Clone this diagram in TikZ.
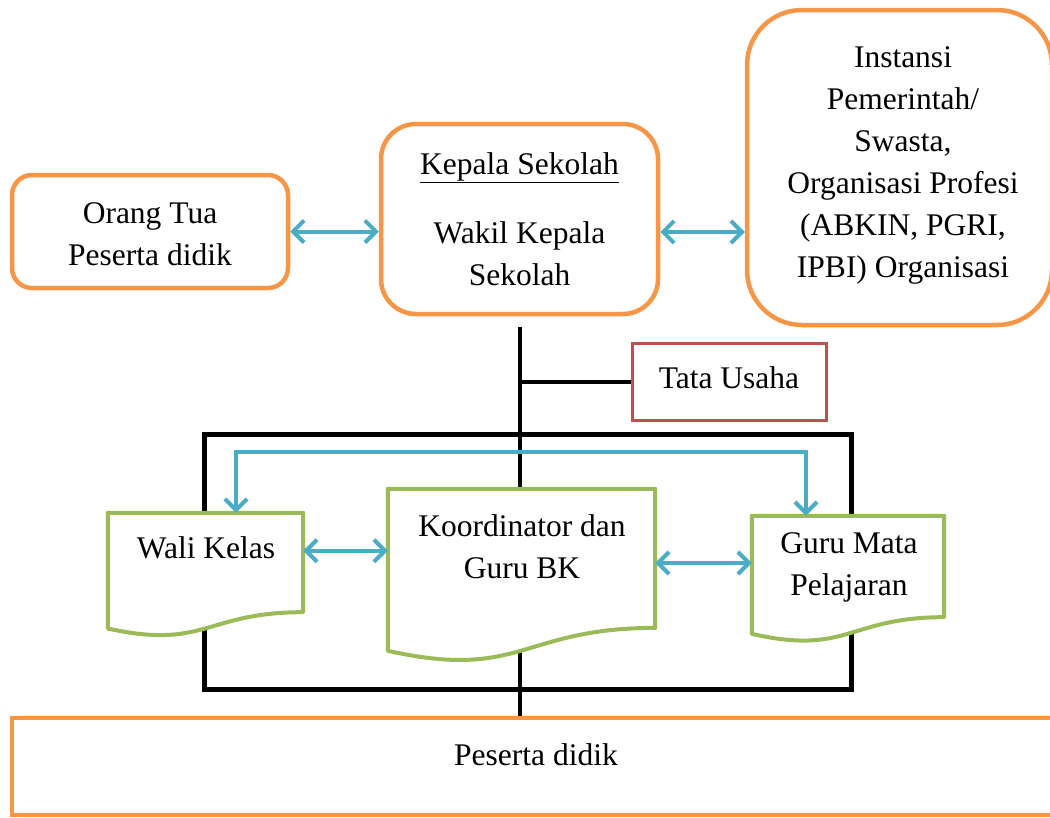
\documentclass[tikz,border=0pt]{standalone}
\usepackage{fontspec}
\setmainfont{Liberation Serif}
\usetikzlibrary{arrows.meta,calc}

\definecolor{boxorange}{HTML}{F79646}
\definecolor{linkteal}{HTML}{4BACC6}
\definecolor{docgreen}{HTML}{9BBB59}
\definecolor{tured}{HTML}{C0504D}

\tikzset{
  txt/.style={font=\fontsize{31.5}{42}\selectfont, align=center, inner sep=0pt},
  orangebox/.style={draw=boxorange, line width=4.5pt, fill=white, inner sep=0pt},
  docframe/.style={inner sep=0pt},
  docline/.style={draw=docgreen, line width=4pt, fill=white, line join=round},
  trunk/.style={draw=black, line width=4pt},
  unitframe/.style={draw=black, line width=5pt, inner sep=0pt},
  tubox/.style={draw=tured, line width=3pt, fill=white, inner sep=0pt},
  link/.style={draw=linkteal, line width=4pt,
    {Straight Barb[length=11pt,width=22pt]}-{Straight Barb[length=11pt,width=22pt]}},
}

% document-shaped outline (flat top, wavy bottom) around a named frame node
\newcommand\docoutline[1]{%
  \path[docline] (#1.north west) -- (#1.north east)
    -- ($(#1.north east)!0.802!(#1.south east)$)
    .. controls ($(#1.north)!0.802!(#1.south)$) and ($(#1.north)!1.107!(#1.south)$)
    .. ($(#1.north west)!0.934!(#1.south west)$) -- cycle;}

\begin{document}
\begin{tikzpicture}[x=1pt,y=-1pt]
\useasboundingbox (0,0) rectangle (1050,817);
\clip (0,0) rectangle (1050,817);

% top row
\node[orangebox, rounded corners=20pt, minimum width=276, minimum height=113]
  (ortu) at (150,231.5) {};
\node[txt] (ortutxt) at (150,234) {Orang Tua\\Peserta didik};

\node[orangebox, rounded corners=35pt, minimum width=277, minimum height=190, txt]
  (kepala) at (519.5,219) {\underline{Kepala Sekolah}\\[27pt]Wakil Kepala\\Sekolah};

\node[orangebox, rounded corners=55pt, minimum width=305, minimum height=315]
  (instansi) at (899.5,167.5) {};
\node[txt] (instansitxt) at (903,165)
  {Instansi\\Pemerintah/\\Swasta,\\Organisasi Profesi\\(ABKIN, PGRI,\\IPBI) Organisasi};

% bottom box
\node[orangebox, minimum width=1050, minimum height=97] (peserta) at (537,766.5) {};
\node[txt] (pesertatxt) at (536,755) {Peserta didik};

% main line of command
\coordinate (trunktop) at ([yshift=-11pt]kepala.south);
\draw[trunk] (trunktop) -- (trunktop |- peserta.north);

% administration
\node[tubox, minimum width=194, minimum height=77] (tu) at (729,381.5) {};
\node[txt] (tutxt) at (729,378) {Tata Usaha};
\draw[trunk] (tu.west -| trunktop) -- (tu.west);

% frame around the guidance unit
\node[unitframe, minimum width=647, minimum height=255] (unit) at (527.5,561.5) {};

% document-shaped boxes
\node[docframe, minimum width=195, minimum height=123.5] (wali) at (205.5,574.75) {};
\node[docframe, minimum width=267, minimum height=173] (koord) at (521.5,575.5) {};
\node[docframe, minimum width=192, minimum height=126] (guru) at (848,579) {};
\docoutline{wali}
\docoutline{koord}
\docoutline{guru}
\node[txt] (walitxt) at (206,548) {Wali Kelas};
\node[txt] (koordtxt) at (522,546.5) {Koordinator dan\\Guru BK};
\node[txt] (gurutxt) at (849,567.5) {Guru Mata\\Pelajaran};

% two-way links
\draw[link] (ortu.east) -- (ortu.east -| kepala.west);
\draw[link] ([yshift=-13pt]kepala.east) -- ([yshift=-13pt]kepala.east -| instansi.west);
\draw[link] ([yshift=24pt]wali.east) -- ([yshift=24pt]wali.east -| koord.west);
\draw[link] ([yshift=12.5pt]koord.east) -- ([yshift=12.5pt]koord.east -| guru.west);

\coordinate (bus) at (0,452);
\draw[link, line join=miter] ([xshift=30.5pt]wali.north) -- ([xshift=30.5pt]wali.north |- bus)
  -- ([xshift=-42pt]guru.north |- bus) -- ([xshift=-42pt]guru.north);
\end{tikzpicture}
\end{document}
